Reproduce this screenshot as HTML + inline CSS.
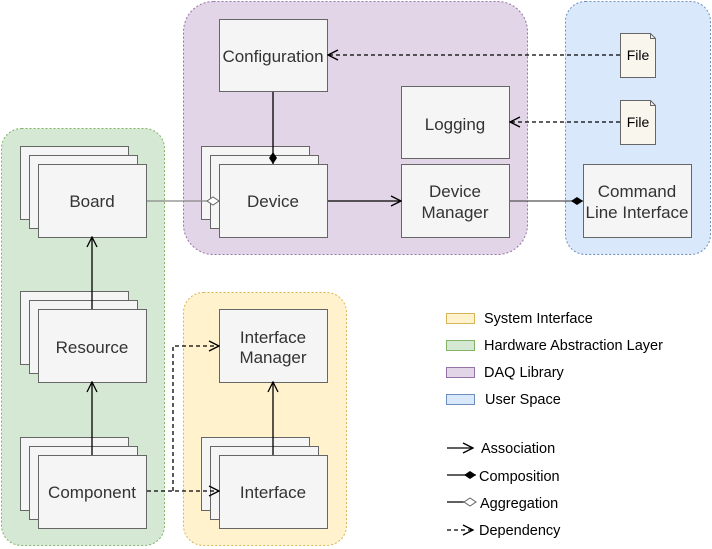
<!DOCTYPE html>
<html><head><meta charset="utf-8"><style>
html,body{margin:0;padding:0;background:#fff}
svg{display:block}
text{font-family:"Liberation Sans",sans-serif;fill:#333}
</style></head><body>
<svg width="712" height="549" viewBox="0 0 712 549" xmlns="http://www.w3.org/2000/svg">
<defs>
<marker id="open" viewBox="0 0 12 12" refX="11" refY="6" markerWidth="12" markerHeight="12" orient="auto" markerUnits="userSpaceOnUse"><path d="M1,1 L11,6 L1,11" fill="none" stroke="#000" stroke-width="1.3"/></marker>
<marker id="dia" viewBox="0 0 14 10" refX="13" refY="5" markerWidth="14" markerHeight="10" orient="auto" markerUnits="userSpaceOnUse"><path d="M1,5 L7,1 L13,5 L7,9 Z" fill="#000"/></marker>
<marker id="odia" viewBox="0 0 14 10" refX="13" refY="5" markerWidth="14" markerHeight="10" orient="auto" markerUnits="userSpaceOnUse"><path d="M1,5 L7,1 L13,5 L7,9 Z" fill="#fff" stroke="#666"/></marker>
</defs>
<rect x="1.5" y="128.5" width="163" height="417" rx="20" fill="#d5e8d4" stroke="#82b366" stroke-dasharray="2,2"/>
<rect x="183.5" y="1.5" width="344" height="253" rx="30" fill="#e1d5e7" stroke="#9673a6" stroke-dasharray="2,2"/>
<rect x="565.5" y="1.5" width="145" height="253" rx="20" fill="#dae8fc" stroke="#6c8ebf" stroke-dasharray="2,2"/>
<rect x="183.5" y="292.5" width="163" height="253" rx="20" fill="#fff2cc" stroke="#d6b656" stroke-dasharray="2,2"/>
<g fill="#f5f5f5" stroke="#666" stroke-width="1">
<rect x="20.5" y="146.5" width="108" height="73"/><rect x="29.5" y="155.5" width="108" height="73"/><rect x="38.5" y="164.5" width="108" height="73"/>
<rect x="201.5" y="146.5" width="108" height="73"/><rect x="210.5" y="155.5" width="108" height="73"/><rect x="219.5" y="164.5" width="108" height="73"/>
<rect x="219.5" y="19.5" width="108" height="72"/>
<rect x="401.5" y="86.5" width="108" height="72"/>
<rect x="401.5" y="164.5" width="108" height="73"/>
<rect x="583.5" y="164.5" width="108" height="73"/>
<rect x="20.5" y="291.5" width="108" height="73"/><rect x="29.5" y="300.5" width="108" height="73"/><rect x="38.5" y="309.5" width="108" height="73"/>
<rect x="20.5" y="437.5" width="108" height="73"/><rect x="29.5" y="446.5" width="108" height="73"/><rect x="38.5" y="455.5" width="108" height="73"/>
<rect x="219.5" y="309.5" width="108" height="73"/>
<rect x="201.5" y="437.5" width="108" height="73"/><rect x="210.5" y="446.5" width="108" height="73"/><rect x="219.5" y="455.5" width="108" height="73"/>
</g>
<g fill="#f9f7ed" stroke="#666">
<path d="M620.5,33.5 H650.5 L655.5,38.5 V77.5 H620.5 Z"/><path d="M650.5,33.5 V38.5 H655.5" fill="none"/>
<path d="M620.5,100.5 H650.5 L655.5,105.5 V144.5 H620.5 Z"/><path d="M650.5,100.5 V105.5 H655.5" fill="none"/>
</g>
<g font-size="17" text-anchor="middle">
<text x="92" y="207">Board</text>
<text x="273" y="207">Device</text>
<text x="273" y="62">Configuration</text>
<text x="455" y="130">Logging</text>
<text x="455" y="197">Device</text><text x="455" y="218">Manager</text>
<text x="637" y="197">Command</text><text x="637" y="218">Line Interface</text>
<text x="92" y="353">Resource</text>
<text x="92" y="498">Component</text>
<text x="273" y="343">Interface</text><text x="273" y="363">Manager</text>
<text x="273" y="498">Interface</text>
</g>
<g font-size="14" text-anchor="middle"><text x="638" y="60" style="fill:#000">File</text><text x="638" y="127" style="fill:#000">File</text></g>
<g fill="none" stroke-width="1.3">
<line x1="147" y1="201" x2="219" y2="201" stroke="#888" marker-end="url(#odia)"/>
<line x1="273" y1="92" x2="273" y2="164" stroke="#000" marker-end="url(#dia)"/>
<line x1="328" y1="201" x2="401" y2="201" stroke="#000" marker-end="url(#open)"/>
<line x1="510" y1="201" x2="583" y2="201" stroke="#555" marker-end="url(#dia)"/>
<line x1="620" y1="55" x2="328" y2="55" stroke="#000" stroke-dasharray="4,3" marker-end="url(#open)"/>
<line x1="620" y1="122" x2="510" y2="122" stroke="#000" stroke-dasharray="4,3" marker-end="url(#open)"/>
<line x1="92" y1="309" x2="92" y2="237" stroke="#000" marker-end="url(#open)"/>
<line x1="92" y1="455" x2="92" y2="382" stroke="#000" marker-end="url(#open)"/>
<line x1="273" y1="455" x2="273" y2="382" stroke="#000" marker-end="url(#open)"/>
<line x1="147" y1="491" x2="219" y2="491" stroke="#000" stroke-dasharray="4,3" marker-end="url(#open)"/>
<polyline points="173,491 173,346 219,346" stroke="#000" stroke-dasharray="4,3" marker-end="url(#open)"/>
</g>
<rect x="446.5" y="313.5" width="28" height="10" fill="#fff2cc" stroke="#d6b656"/>
<rect x="446.5" y="340.5" width="28" height="10" fill="#d5e8d4" stroke="#82b366"/>
<rect x="446.5" y="367.5" width="28" height="10" fill="#e1d5e7" stroke="#9673a6"/>
<rect x="446.5" y="394.5" width="28" height="10" fill="#dae8fc" stroke="#6c8ebf"/>
<g font-size="14.5">
<text x="484" y="323" style="fill:#000">System Interface</text>
<text x="484" y="350" style="fill:#000">Hardware Abstraction Layer</text>
<text x="484" y="377" style="fill:#000">DAQ Library</text>
<text x="485" y="404" style="fill:#000">User Space</text>
<text x="481" y="453" style="fill:#000">Association</text>
<text x="479" y="481" style="fill:#000">Composition</text>
<text x="480" y="508" style="fill:#000">Aggregation</text>
<text x="479" y="535" style="fill:#000">Dependency</text>
</g>
<g fill="none" stroke-width="1.3">
<line x1="447" y1="448" x2="473" y2="448" stroke="#000" marker-end="url(#open)"/>
<line x1="447" y1="475" x2="476" y2="475" stroke="#000" marker-end="url(#dia)"/>
<line x1="447" y1="502" x2="476" y2="502" stroke="#000" marker-end="url(#odia)"/>
<line x1="447" y1="530" x2="473" y2="530" stroke="#000" stroke-dasharray="4,3" marker-end="url(#open)"/>
</g>
</svg>
</body></html>
